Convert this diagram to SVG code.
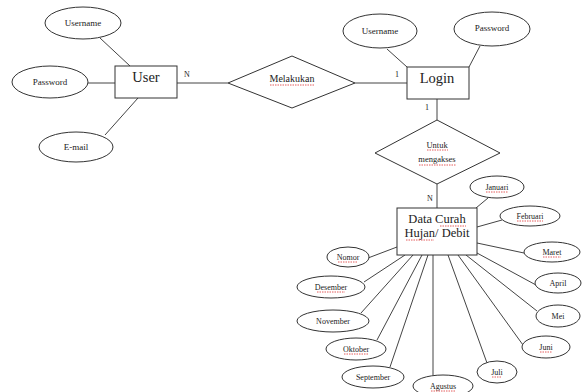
<svg xmlns="http://www.w3.org/2000/svg" width="585" height="392" viewBox="0 0 585 392">
<style>
.sh{fill:#fff;stroke:#333;stroke-width:1}
.ln{stroke:#444;stroke-width:1;fill:none}
.t{font-family:"Liberation Serif","Times New Roman",serif;fill:#222;text-anchor:middle}
.s{font-size:9px}
.x{font-size:8px}
.m{font-size:10px}
.u{font-size:8.5px}
.b{font-size:14.5px}
.d{font-size:12.5px}
.sq{stroke:#d33;stroke-width:0.8;fill:none;stroke-dasharray:1.5 1}
</style>
<rect width="585" height="392" fill="#fff"/>
<g id="connectors">
<line class="ln" x1="100" y1="38" x2="130" y2="66"/>
<line class="ln" x1="88" y1="83" x2="115" y2="83"/>
<line class="ln" x1="105" y1="135" x2="138" y2="98"/>
<line class="ln" x1="177" y1="83" x2="228" y2="83"/>
<line class="ln" x1="355" y1="83" x2="407" y2="83"/>
<line class="ln" x1="387" y1="49" x2="407" y2="67"/>
<line class="ln" x1="480" y1="46" x2="469" y2="67"/>
<line class="ln" x1="437" y1="99" x2="437" y2="120"/>
<line class="ln" x1="437" y1="184" x2="437" y2="208"/>
<line class="ln" x1="488" y1="198" x2="476" y2="208"/>
<line class="ln" x1="502" y1="220" x2="477" y2="227"/>
<line class="ln" x1="477" y1="243" x2="524" y2="253"/>
<line class="ln" x1="477" y1="253" x2="536" y2="285"/>
<line class="ln" x1="466" y1="255" x2="537" y2="311"/>
<line class="ln" x1="458" y1="255" x2="523" y2="345"/>
<line class="ln" x1="448" y1="255" x2="487" y2="363"/>
<line class="ln" x1="433" y1="255" x2="433" y2="375"/>
<line class="ln" x1="428" y1="255" x2="390" y2="367"/>
<line class="ln" x1="422" y1="255" x2="377" y2="340"/>
<line class="ln" x1="413" y1="255" x2="361" y2="313"/>
<line class="ln" x1="405" y1="255" x2="364" y2="282"/>
<line class="ln" x1="368" y1="258" x2="397" y2="247"/>
</g>
<g id="user-username"><ellipse class="sh" cx="83" cy="23" rx="38" ry="16"/><text class="t s" x="83" y="26">Username</text></g>
<g id="user-password"><ellipse class="sh" cx="50" cy="82" rx="38" ry="16"/><text class="t s" x="50" y="85">Password</text></g>
<g id="user-email"><ellipse class="sh" cx="76" cy="147" rx="37" ry="15"/><text class="t s" x="76" y="150">E-mail</text></g>
<g id="user"><rect class="sh" x="115" y="66" width="62" height="32"/><text class="t b" x="146" y="82">User</text></g>
<text class="t x" x="187" y="77">N</text>
<g id="melakukan"><polygon class="sh" points="228,83 292,56 355,83 292,108"/><text class="t m" x="292" y="82">Melakukan</text><line class="sq" x1="270" y1="85" x2="314" y2="85"/></g>
<text class="t x" x="397" y="77">1</text>
<g id="login-username"><ellipse class="sh" cx="380" cy="31" rx="37" ry="17"/><text class="t s" x="380" y="34">Username</text></g>
<g id="login-password"><ellipse class="sh" cx="492" cy="29" rx="38" ry="17"/><text class="t s" x="492" y="31">Password</text></g>
<g id="login"><rect class="sh" x="407" y="67" width="62" height="32"/><text class="t b" x="437" y="83">Login</text></g>
<text class="t x" x="427" y="110">1</text>
<g id="untuk-mengakses"><polygon class="sh" points="375,153 437,120 500,153 437,184"/><text class="t u" x="437" y="148">Untuk</text><text class="t u" x="437" y="162">mengakses</text><line class="sq" x1="427" y1="150" x2="448" y2="150"/><line class="sq" x1="419" y1="165" x2="456" y2="165"/></g>
<text class="t x" x="430" y="201">N</text>
<g id="data"><rect class="sh" x="397" y="208" width="80" height="47"/><text class="t d" x="437" y="223">Data Curah</text><text class="t d" x="437" y="237">Hujan/ Debit</text><line class="sq" x1="440" y1="226" x2="466" y2="226"/><line class="sq" x1="406" y1="240" x2="434" y2="240"/></g>
<g id="januari"><ellipse class="sh" cx="497" cy="187" rx="27" ry="11"/><text class="t x" x="497" y="190">Januari</text><line class="sq" x1="486" y1="192" x2="508" y2="192"/></g>
<g id="februari"><ellipse class="sh" cx="530" cy="216" rx="30" ry="10"/><text class="t x" x="530" y="219">Februari</text><line class="sq" x1="517" y1="221" x2="543" y2="221"/></g>
<g id="maret"><ellipse class="sh" cx="552" cy="252" rx="28" ry="10"/><text class="t x" x="552" y="255">Maret</text><line class="sq" x1="543" y1="257" x2="561" y2="257"/></g>
<g id="april"><ellipse class="sh" cx="558" cy="283" rx="23" ry="10"/><text class="t x" x="558" y="286">April</text></g>
<g id="mei"><ellipse class="sh" cx="558" cy="316" rx="22" ry="11"/><text class="t x" x="558" y="319">Mei</text></g>
<g id="juni"><ellipse class="sh" cx="546" cy="347" rx="24" ry="11"/><text class="t x" x="546" y="350">Juni</text><line class="sq" x1="540" y1="352" x2="552" y2="352"/></g>
<g id="juli"><ellipse class="sh" cx="497" cy="372" rx="20" ry="11"/><text class="t x" x="497" y="375">Juli</text><line class="sq" x1="492" y1="377" x2="502" y2="377"/></g>
<g id="agustus"><ellipse class="sh" cx="443" cy="386" rx="30" ry="11"/><text class="t x" x="443" y="389">Agustus</text><line class="sq" x1="431" y1="391" x2="455" y2="391"/></g>
<g id="september"><ellipse class="sh" cx="373" cy="377" rx="31" ry="11"/><text class="t x" x="373" y="380">September</text></g>
<g id="oktober"><ellipse class="sh" cx="356" cy="349" rx="30" ry="11"/><text class="t x" x="356" y="352">Oktober</text><line class="sq" x1="344" y1="354" x2="368" y2="354"/></g>
<g id="november"><ellipse class="sh" cx="333" cy="321" rx="36" ry="11"/><text class="t x" x="333" y="324">November</text></g>
<g id="desember"><ellipse class="sh" cx="331" cy="287" rx="34" ry="11"/><text class="t x" x="331" y="290">Desember</text><line class="sq" x1="317" y1="292" x2="345" y2="292"/></g>
<g id="nomor"><ellipse class="sh" cx="348" cy="257" rx="21" ry="10"/><text class="t x" x="348" y="260">Nomor</text><line class="sq" x1="338" y1="262" x2="358" y2="262"/></g>
</svg>
